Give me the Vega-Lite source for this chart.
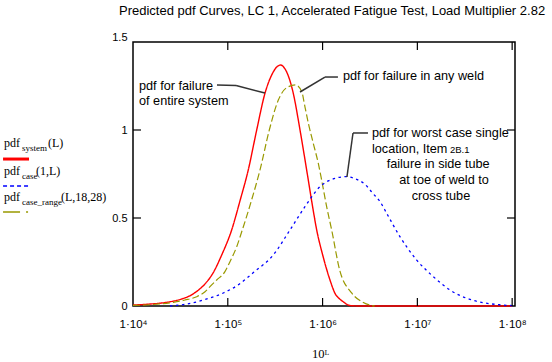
{
  "$schema": "https://vega.github.io/schema/vega-lite/v6.json",
  "width": 382,
  "height": 264,
  "autosize": {"type": "none"},
  "padding": {"left": 133, "top": 42, "right": 37, "bottom": 56},
  "background": "white",
  "title": {"text": "Predicted pdf Curves, LC 1, Accelerated Fatigue Test, Load Multiplier 2.82", "anchor": "start", "frame": "group", "dx": -14, "offset": 3, "baseline": "alphabetic", "font": "Liberation Sans", "fontSize": 13, "fontWeight": "normal", "color": "black"},
  "config": {
    "view": {"stroke": "black", "strokeWidth": 1.5},
    "axis": {"grid": false, "ticks": false, "domain": false, "labelFont": "Liberation Sans", "labelFontSize": 11, "labelColor": "black", "titleFont": "Liberation Serif", "titleFontSize": 12.5, "titleFontWeight": "normal", "titleColor": "black"},
    "text": {"font": "Liberation Sans", "fontSize": 12.7, "color": "black", "align": "left", "baseline": "alphabetic"}
  },
  "datasets": {
    "curves": [
      {"s": "system", "L": 4.0, "v": 0.006}, {"s": "system", "L": 4.1, "v": 0.008}, {"s": "system", "L": 4.18, "v": 0.011}, {"s": "system", "L": 4.3, "v": 0.017}, {"s": "system", "L": 4.39, "v": 0.024}, {"s": "system", "L": 4.46, "v": 0.032}, {"s": "system", "L": 4.531, "v": 0.043}, {"s": "system", "L": 4.6, "v": 0.058}, {"s": "system", "L": 4.672, "v": 0.083}, {"s": "system", "L": 4.759, "v": 0.125}, {"s": "system", "L": 4.847, "v": 0.19}, {"s": "system", "L": 4.936, "v": 0.29}, {"s": "system", "L": 5.041, "v": 0.432}, {"s": "system", "L": 5.13, "v": 0.6}, {"s": "system", "L": 5.216, "v": 0.773}, {"s": "system", "L": 5.305, "v": 1.0}, {"s": "system", "L": 5.392, "v": 1.208}, {"s": "system", "L": 5.47, "v": 1.32}, {"s": "system", "L": 5.52, "v": 1.36}, {"s": "system", "L": 5.558, "v": 1.369}, {"s": "system", "L": 5.6, "v": 1.35}, {"s": "system", "L": 5.65, "v": 1.29}, {"s": "system", "L": 5.691, "v": 1.208}, {"s": "system", "L": 5.762, "v": 1.0}, {"s": "system", "L": 5.832, "v": 0.773}, {"s": "system", "L": 5.89, "v": 0.58}, {"s": "system", "L": 5.938, "v": 0.432}, {"s": "system", "L": 6.001, "v": 0.29}, {"s": "system", "L": 6.078, "v": 0.148}, {"s": "system", "L": 6.131, "v": 0.072}, {"s": "system", "L": 6.18, "v": 0.04}, {"s": "system", "L": 6.218, "v": 0.024}, {"s": "system", "L": 6.26, "v": 0.008}, {"s": "system", "L": 6.3, "v": 0.002}, {"s": "system", "L": 6.4, "v": 0}, {"s": "system", "L": 8.0, "v": 0},
      {"s": "range", "L": 4.0, "v": 0.003}, {"s": "range", "L": 4.2, "v": 0.008}, {"s": "range", "L": 4.425, "v": 0.021}, {"s": "range", "L": 4.549, "v": 0.034}, {"s": "range", "L": 4.672, "v": 0.053}, {"s": "range", "L": 4.76, "v": 0.081}, {"s": "range", "L": 4.812, "v": 0.11}, {"s": "range", "L": 4.883, "v": 0.148}, {"s": "range", "L": 4.97, "v": 0.195}, {"s": "range", "L": 5.023, "v": 0.252}, {"s": "range", "L": 5.094, "v": 0.337}, {"s": "range", "L": 5.147, "v": 0.422}, {"s": "range", "L": 5.25, "v": 0.6}, {"s": "range", "L": 5.34, "v": 0.773}, {"s": "range", "L": 5.438, "v": 1.0}, {"s": "range", "L": 5.533, "v": 1.17}, {"s": "range", "L": 5.62, "v": 1.24}, {"s": "range", "L": 5.716, "v": 1.256}, {"s": "range", "L": 5.78, "v": 1.218}, {"s": "range", "L": 5.814, "v": 1.132}, {"s": "range", "L": 5.85, "v": 1.038}, {"s": "range", "L": 5.902, "v": 0.924}, {"s": "range", "L": 5.955, "v": 0.81}, {"s": "range", "L": 5.99, "v": 0.716}, {"s": "range", "L": 6.043, "v": 0.564}, {"s": "range", "L": 6.096, "v": 0.432}, {"s": "range", "L": 6.18, "v": 0.205}, {"s": "range", "L": 6.307, "v": 0.074}, {"s": "range", "L": 6.43, "v": 0.02}, {"s": "range", "L": 6.5, "v": 0.005}, {"s": "range", "L": 6.55, "v": 0},
      {"s": "case", "L": 4.39, "v": 0}, {"s": "case", "L": 4.45, "v": 0.003}, {"s": "case", "L": 4.566, "v": 0.011}, {"s": "case", "L": 4.742, "v": 0.034}, {"s": "case", "L": 4.953, "v": 0.074}, {"s": "case", "L": 5.11, "v": 0.12}, {"s": "case", "L": 5.27, "v": 0.19}, {"s": "case", "L": 5.48, "v": 0.29}, {"s": "case", "L": 5.656, "v": 0.432}, {"s": "case", "L": 5.814, "v": 0.564}, {"s": "case", "L": 5.973, "v": 0.678}, {"s": "case", "L": 6.1, "v": 0.72}, {"s": "case", "L": 6.254, "v": 0.735}, {"s": "case", "L": 6.35, "v": 0.722}, {"s": "case", "L": 6.45, "v": 0.69}, {"s": "case", "L": 6.53, "v": 0.64}, {"s": "case", "L": 6.606, "v": 0.593}, {"s": "case", "L": 6.676, "v": 0.527}, {"s": "case", "L": 6.816, "v": 0.394}, {"s": "case", "L": 6.993, "v": 0.261}, {"s": "case", "L": 7.168, "v": 0.167}, {"s": "case", "L": 7.344, "v": 0.091}, {"s": "case", "L": 7.52, "v": 0.044}, {"s": "case", "L": 7.695, "v": 0.019}, {"s": "case", "L": 7.87, "v": 0.007}, {"s": "case", "L": 8.01, "v": 0.002}
    ],
    "xticks": [{"t": 5}, {"t": 6}, {"t": 7}, {"t": 8}],
    "yticks": [{"t": 0.5}, {"t": 1.0}],
    "one": [{}]
  },
  "layer": [
    {
      "data": {"name": "curves"},
      "mark": {"type": "line", "interpolate": "monotone"},
      "encoding": {
        "x": {"field": "L", "type": "quantitative", "scale": {"domain": [4, 8.03], "nice": false, "zero": false},
              "axis": {"values": [4, 5, 6, 7, 8], "labelExpr": "'1·10' + (datum.value == 4 ? '⁴' : datum.value == 5 ? '⁵' : datum.value == 6 ? '⁶' : datum.value == 7 ? '⁷' : '⁸')", "labelFontSize": 11.5, "labelPadding": 12, "labelFlush": false, "titleBaseline": "alphabetic", "titleY": 51, "titleX": 187},
              "title": "10ᴸ"},
        "y": {"field": "v", "type": "quantitative", "scale": {"domain": [0, 1.5], "nice": false},
              "axis": {"values": [0, 0.5, 1, 1.5], "format": "~g", "labelPadding": 6, "labelFlush": false, "labelBaseline": {"condition": {"test": "datum.value == 1.5", "value": "bottom"}, "value": "middle"}}, "title": null},
        "color": {"field": "s", "type": "nominal", "scale": {"domain": ["range", "case", "system"], "range": ["#999900", "#0000ff", "#ff0000"]}, "legend": null},
        "strokeDash": {"field": "s", "type": "nominal", "scale": {"domain": ["range", "case", "system"], "range": [[7, 3], [2.5, 3.5], [1, 0]]}, "legend": null},
        "strokeWidth": {"field": "s", "type": "nominal", "scale": {"domain": ["range", "case", "system"], "range": [1.2, 1.4, 3]}, "legend": null},
        "order": {"field": "L", "type": "quantitative"}
      }
    },
    {"data": {"name": "xticks"}, "mark": {"type": "rule", "color": "black", "strokeWidth": 1.2, "y2Offset": -8}, "encoding": {"x": {"field": "t", "type": "quantitative"}, "y": {"datum": 0}, "y2": {"datum": 0}}},
    {"data": {"name": "xticks"}, "mark": {"type": "rule", "color": "black", "strokeWidth": 1.2, "y2Offset": 8}, "encoding": {"x": {"field": "t", "type": "quantitative"}, "y": {"datum": 1.5}, "y2": {"datum": 1.5}}},
    {"data": {"name": "yticks"}, "mark": {"type": "rule", "color": "black", "strokeWidth": 1.2, "x2Offset": 8}, "encoding": {"y": {"field": "t", "type": "quantitative"}, "x": {"datum": 4}, "x2": {"datum": 4}}},
    {"data": {"name": "yticks"}, "mark": {"type": "rule", "color": "black", "strokeWidth": 1.2, "x2Offset": -8}, "encoding": {"y": {"field": "t", "type": "quantitative"}, "x": {"datum": 8.03}, "x2": {"datum": 8.03}}},

    {"data": {"name": "one"}, "mark": {"type": "rule", "color": "#333333", "strokeWidth": 1.5}, "encoding": {"x": {"datum": 4.886}, "y": {"datum": 1.256}, "x2": {"datum": 5.087}, "y2": {"datum": 1.253}}},
    {"data": {"name": "one"}, "mark": {"type": "rule", "color": "#333333", "strokeWidth": 1.5}, "encoding": {"x": {"datum": 5.087}, "y": {"datum": 1.253}, "x2": {"datum": 5.392}, "y2": {"datum": 1.21}}},
    {"data": {"name": "one"}, "mark": {"type": "rule", "color": "#333333", "strokeWidth": 1.5}, "encoding": {"x": {"datum": 5.762}, "y": {"datum": 1.216}, "x2": {"datum": 6.025}, "y2": {"datum": 1.301}}},
    {"data": {"name": "one"}, "mark": {"type": "rule", "color": "#333333", "strokeWidth": 1.5}, "encoding": {"x": {"datum": 6.025}, "y": {"datum": 1.301}, "x2": {"datum": 6.162}, "y2": {"datum": 1.301}}},
    {"data": {"name": "one"}, "mark": {"type": "rule", "color": "#333333", "strokeWidth": 1.5}, "encoding": {"x": {"datum": 6.257}, "y": {"datum": 0.733}, "x2": {"datum": 6.321}, "y2": {"datum": 0.983}}},
    {"data": {"name": "one"}, "mark": {"type": "rule", "color": "#333333", "strokeWidth": 1.5}, "encoding": {"x": {"datum": 6.321}, "y": {"datum": 0.983}, "x2": {"datum": 6.479}, "y2": {"datum": 0.983}}},

    {"data": {"name": "one"}, "mark": {"type": "text", "lineHeight": 15}, "encoding": {"x": {"datum": 4.063}, "y": {"datum": 1.227}, "text": {"value": ["pdf for failure", "of entire system"]}}},
    {"data": {"name": "one"}, "mark": {"type": "text"}, "encoding": {"x": {"datum": 6.215}, "y": {"datum": 1.284}, "text": {"value": "pdf for failure in any weld"}}},
    {"data": {"name": "one"}, "mark": {"type": "text"}, "encoding": {"x": {"datum": 6.521}, "y": {"datum": 0.958}, "text": {"value": "pdf for worst case single"}}},
    {"data": {"name": "one"}, "mark": {"type": "text"}, "encoding": {"x": {"datum": 6.521}, "y": {"datum": 0.871}, "text": {"value": "location, Item"}}},
    {"data": {"name": "one"}, "mark": {"type": "text", "fontSize": 9.5}, "encoding": {"x": {"datum": 7.344}, "y": {"datum": 0.871}, "text": {"value": "2B.1"}}},
    {"data": {"name": "one"}, "mark": {"type": "text"}, "encoding": {"x": {"datum": 6.676}, "y": {"datum": 0.782}, "text": {"value": "failure in side tube"}}},
    {"data": {"name": "one"}, "mark": {"type": "text"}, "encoding": {"x": {"datum": 6.809}, "y": {"datum": 0.691}, "text": {"value": "at toe of weld to"}}},
    {"data": {"name": "one"}, "mark": {"type": "text"}, "encoding": {"x": {"datum": 6.94}, "y": {"datum": 0.602}, "text": {"value": "cross tube"}}},

    {"data": {"name": "one"}, "mark": {"type": "text", "font": "Liberation Serif", "fontSize": 12}, "encoding": {"x": {"datum": 2.639}, "y": {"datum": 0.906}, "text": {"value": "pdf"}}},
    {"data": {"name": "one"}, "mark": {"type": "text", "font": "Liberation Serif", "fontSize": 9, "dx": 18, "dy": 4}, "encoding": {"x": {"datum": 2.639}, "y": {"datum": 0.906}, "text": {"value": "system"}}},
    {"data": {"name": "one"}, "mark": {"type": "text", "font": "Liberation Serif", "fontSize": 12, "dx": 44}, "encoding": {"x": {"datum": 2.639}, "y": {"datum": 0.906}, "text": {"value": "(L)"}}},
    {"data": {"name": "one"}, "mark": {"type": "rule", "color": "#ff0000", "strokeWidth": 3}, "encoding": {"x": {"datum": 2.629}, "x2": {"datum": 2.903}, "y": {"datum": 0.835}}},

    {"data": {"name": "one"}, "mark": {"type": "text", "font": "Liberation Serif", "fontSize": 12}, "encoding": {"x": {"datum": 2.639}, "y": {"datum": 0.747}, "text": {"value": "pdf"}}},
    {"data": {"name": "one"}, "mark": {"type": "text", "font": "Liberation Serif", "fontSize": 9, "dx": 18, "dy": 4}, "encoding": {"x": {"datum": 2.639}, "y": {"datum": 0.747}, "text": {"value": "case"}}},
    {"data": {"name": "one"}, "mark": {"type": "text", "font": "Liberation Serif", "fontSize": 12, "dx": 32}, "encoding": {"x": {"datum": 2.639}, "y": {"datum": 0.747}, "text": {"value": "(1,L)"}}},
    {"data": {"name": "one"}, "mark": {"type": "rule", "color": "#0000ff", "strokeWidth": 1.4, "strokeDash": [4, 3]}, "encoding": {"x": {"datum": 2.629}, "x2": {"datum": 2.893}, "y": {"datum": 0.682}}},

    {"data": {"name": "one"}, "mark": {"type": "text", "font": "Liberation Serif", "fontSize": 12}, "encoding": {"x": {"datum": 2.639}, "y": {"datum": 0.597}, "text": {"value": "pdf"}}},
    {"data": {"name": "one"}, "mark": {"type": "text", "font": "Liberation Serif", "fontSize": 9, "dx": 18, "dy": 4}, "encoding": {"x": {"datum": 2.639}, "y": {"datum": 0.597}, "text": {"value": "case_range"}}},
    {"data": {"name": "one"}, "mark": {"type": "text", "font": "Liberation Serif", "fontSize": 12, "dx": 57}, "encoding": {"x": {"datum": 2.639}, "y": {"datum": 0.597}, "text": {"value": "(L,18,28)"}}},
    {"data": {"name": "one"}, "mark": {"type": "rule", "color": "#999900", "strokeWidth": 1.5, "strokeDash": [17, 6]}, "encoding": {"x": {"datum": 2.629}, "x2": {"datum": 2.893}, "y": {"datum": 0.534}}}
  ]
}
